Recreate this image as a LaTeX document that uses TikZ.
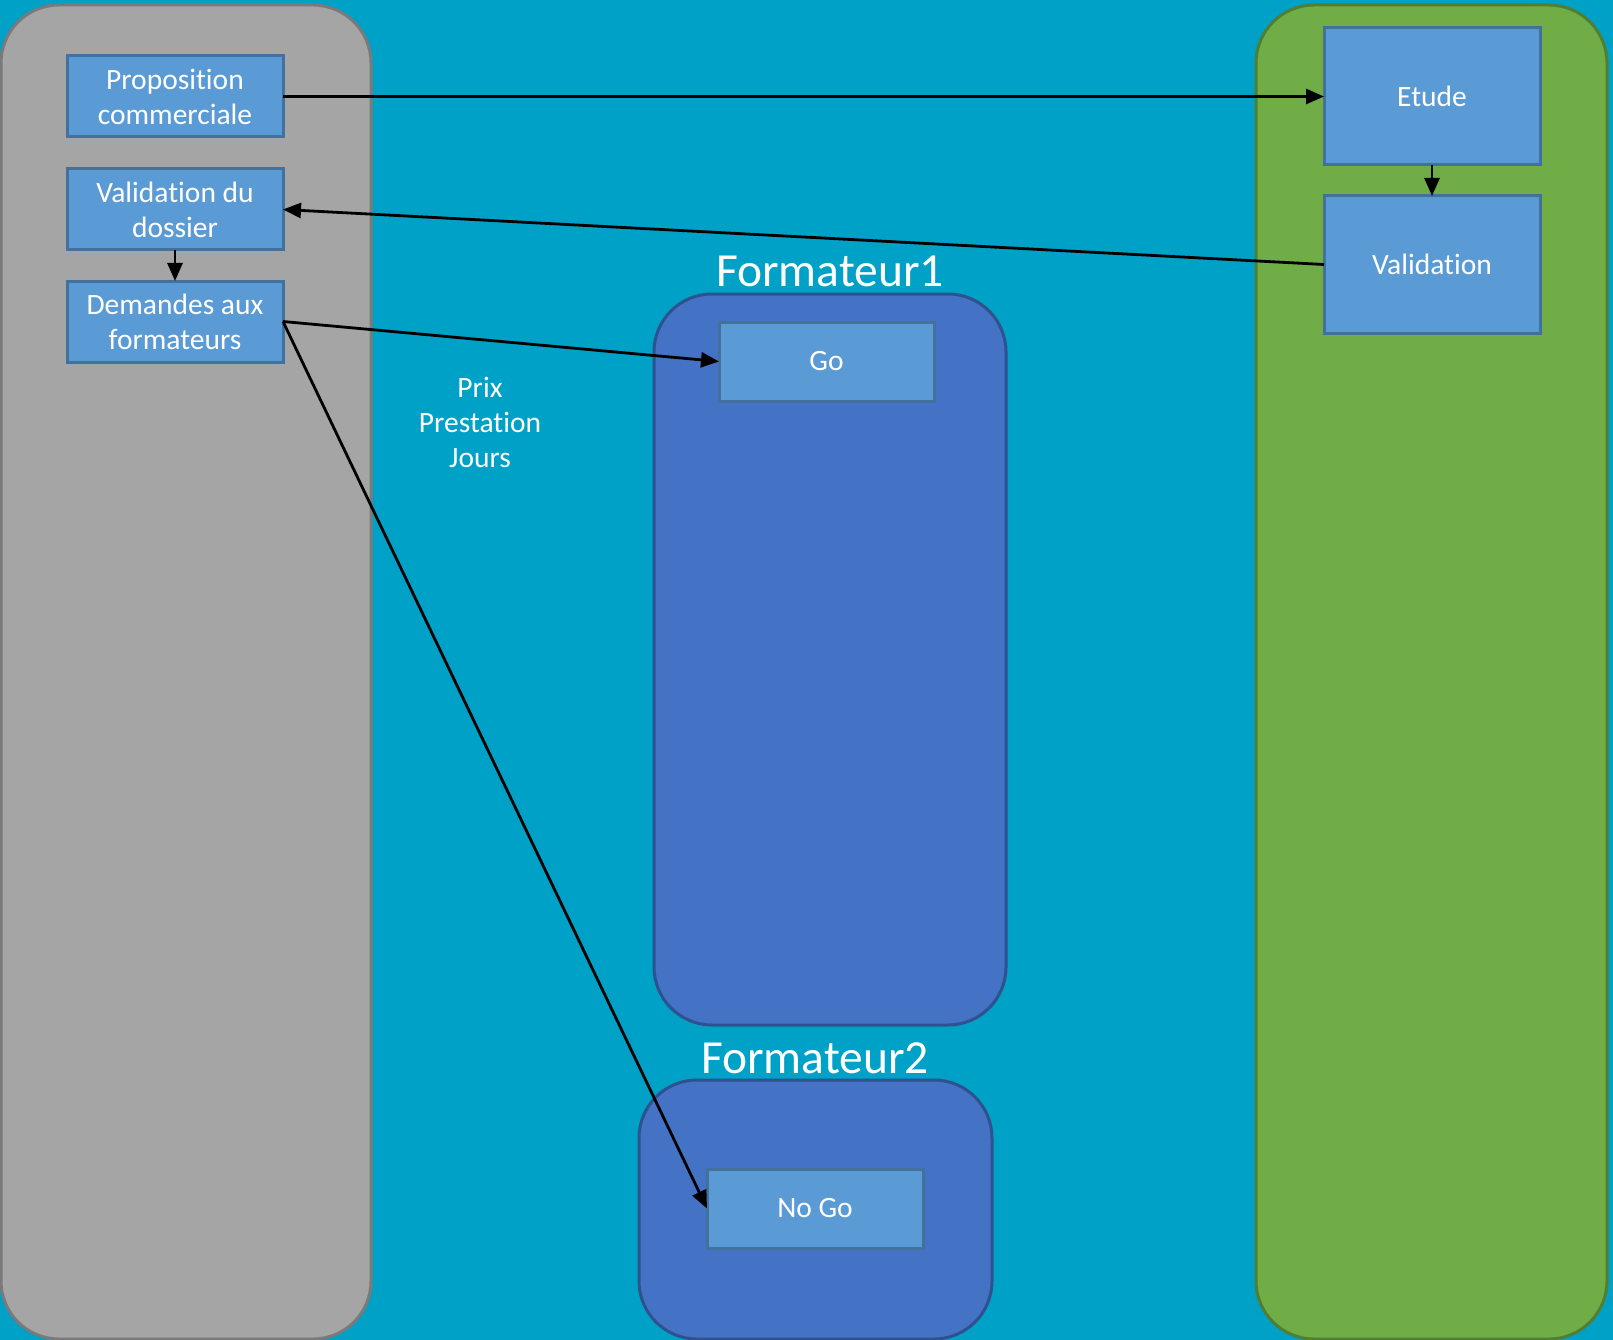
\documentclass[tikz,border=0pt]{standalone}
\usepackage{fontspec}
\setmainfont{Carlito}[Ligatures={NoCommon}]
\usetikzlibrary{arrows.meta}
\definecolor{bgblue}{HTML}{00A1C7}
\definecolor{panelgray}{HTML}{A5A5A5}
\definecolor{panelgrayb}{HTML}{7A7A7A}
\definecolor{panelgreen}{HTML}{70AD47}
\definecolor{panelgreenb}{HTML}{507E32}
\definecolor{panelblue}{HTML}{4472C4}
\definecolor{panelblueb}{HTML}{2F528F}
\definecolor{boxfill}{HTML}{5B9BD5}
\definecolor{boxborder}{HTML}{41719C}
\tikzset{
  panel/.style={rectangle, rounded corners=58pt, line width=3pt, inner sep=0pt, outer sep=0pt},
  stepbox/.style={rectangle, draw=boxborder, fill=boxfill, line width=3pt, inner sep=0pt, outer sep=0pt,
    minimum width=216pt, text=white, align=center, font=\fontsize{29.5}{35}\selectfont},
  conn/.style={line width=2.8pt, -{Triangle[length=18pt,width=15pt]}},
  title/.style={text=white, font=\fontsize{47.5}{55}\selectfont, anchor=base, inner sep=0pt},
  plain/.style={text=white, align=center, font=\fontsize{29.5}{35}\selectfont, inner sep=0pt}
}
\begin{document}
\begin{tikzpicture}[x=1pt,y=-1pt]
\fill[bgblue] (0,0) rectangle (1613,1340);
\useasboundingbox (0,0) rectangle (1613,1340);
% panels
\node[panel, draw=panelgrayb, fill=panelgray, minimum width=370pt, minimum height=1334pt] (pgray) at (186,672) {};
\node[panel, draw=panelgreenb, fill=panelgreen, minimum width=351pt, minimum height=1334pt] (pgreen) at (1431.5,672) {};
\node[panel, draw=panelblueb, fill=panelblue, minimum width=352pt, minimum height=731pt] (pf1) at (830,659.5) {};
\node[panel, draw=panelblueb, fill=panelblue, minimum width=353pt, minimum height=259pt] (pf2) at (815.5,1209.5) {};
% titles
\node[title] (t1) at (830,287) {Formateur1};
\node[title] (t2) at (815,1073) {Formateur2};
% boxes
\node[stepbox, minimum height=81pt] (prop) at (175,96.5) {Proposition\\commerciale};
\node[stepbox, minimum height=81pt] (vdd) at (175,209.5) {Validation du\\dossier};
\node[stepbox, minimum height=81pt] (dem) at (175,321.5) {Demandes aux\\formateurs};
\node[stepbox, minimum height=137pt] (etude) at (1432,96.5) {Etude};
\node[stepbox, minimum height=137pt] (valid) at (1432,264.5) {Validation};
\node[stepbox, minimum width=215pt, minimum height=79pt] (go) at (826.5,361.5) {Go};
\node[stepbox, minimum height=79pt] (nogo) at (815,1208.5) {No Go};
% label
\node[plain] (lbl) at (480,422) {Prix\\Prestation\\Jours};
% connectors
\draw[conn] (prop.east) -- (etude.west);
\draw[conn] (etude.south) -- (valid.north);
\draw[conn] (valid.west) -- (vdd.east);
\draw[conn] (vdd.south) -- (dem.north);
\draw[conn] (dem.east) -- (go.west);
\draw[conn] (dem.east) -- (nogo.west);
\end{tikzpicture}
\end{document}
